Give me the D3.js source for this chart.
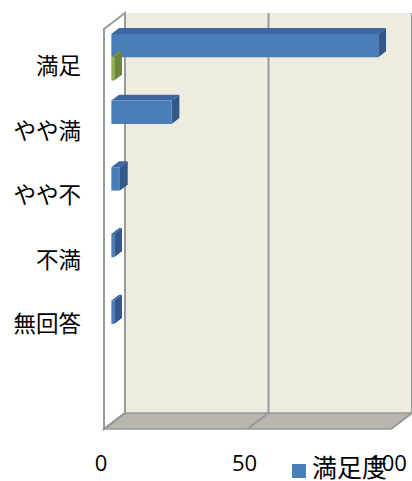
<!DOCTYPE html>
<html><head><meta charset="utf-8">
<script src="https://cdn.jsdelivr.net/npm/d3@7"></script>
<style>
html,body{margin:0;padding:0;background:#fff;}
svg{display:block;}
</style></head>
<body>
<script>
const categories = ['満足','やや満','やや不','不満','無回答',''];
const seriesNames = ['満足度','系列2'];
const satisfaction = [93, 21, 3, 1, 1, null];
const series2 = [1, null, null, null, null, null];
const tickValues = [0, 50, 100];

const W = 412, H = 481;
const svg = d3.select('body').append('svg').attr('width', W).attr('height', H);

// projection: front plane + depth offset
const DX = 21, DY = -16;
const x = d3.scaleLinear().domain([0, 100]).range([104, 391]);
const y = d3.scaleBand().domain(categories).range([29.5, 429.5]).paddingInner(0.3).paddingOuter(0.15);
const ySub = d3.scaleBand().domain(seriesNames).range([0, y.bandwidth()]);
const yLabel = d3.scaleBand().domain(categories).range([32, 419]);
const xTick = d3.scaleLinear().domain([0, 100]).range([101, 388]);
const top0 = 29, bot0 = 429;
const P = (vx, vy, z) => [vx + DX * z, vy + DY * z];

const gridCol = '#999999';
// back wall
const bw = [P(x(0), top0, 1), P(x(100) + 2, top0, 1), P(x(100) + 2, bot0, 1), P(x(0), bot0, 1)];
svg.append('polygon').attr('points', bw.map(p => p.join(',')).join(' '))
  .attr('fill', '#EEEBE1').attr('stroke', 'none');
// floor
const fl = [P(x(0), bot0, 1), P(x(100), bot0, 1), P(x(100), bot0, 0), P(x(0), bot0, 0)];
svg.append('polygon').attr('points', fl.map(p => p.join(',')).join(' '))
  .attr('fill', '#B9B6AF').attr('stroke', gridCol).attr('stroke-width', 1.5);
// left wall
const lw = [P(x(0), top0, 0), P(x(0), top0, 1), P(x(0), bot0, 1), P(x(0), bot0, 0)];
svg.append('polygon').attr('points', lw.map(p => p.join(',')).join(' '))
  .attr('fill', '#ffffff').attr('stroke', gridCol).attr('stroke-width', 2);
// gridlines on back wall + floor
tickValues.forEach(t => {
  const a = P(x(t), top0, 1), b = P(x(t), bot0, 1), c = P(x(t), bot0, 0);
  svg.append('polyline').attr('points', [a, b, c].map(p => p.join(',')).join(' '))
    .attr('fill', 'none').attr('stroke', gridCol).attr('stroke-width', 2);
});

// bars
const colors = {
  '満足度': {front: '#4A7EBB', top: '#3C67A0', side: '#32588A'},
  '系列2': {front: '#8EB04E', top: '#7C9A42', side: '#6B863A'}
};
const z0 = 0.35, zd = 0.37;
const bars = [];
[satisfaction, series2].forEach((arr, si) => {
  arr.forEach((v, ci) => {
    if (v == null || v <= 0) return;
    bars.push({s: seriesNames[si], c: categories[ci], v});
  });
});
const pts = a => a.map(p => p.join(',')).join(' ');
const g = svg.append('g');
const bg = g.selectAll('g.bar').data(bars).join('g').attr('class', 'bar');
bg.each(function(d) {
  const sel = d3.select(this);
  const yt = y(d.c) + ySub(d.s), yb = yt + ySub.bandwidth();
  const xl = x(0), xr = x(d.v);
  const f = [P(xl, yt, z0), P(xr, yt, z0), P(xr, yb, z0), P(xl, yb, z0)];
  const t = [P(xl, yt, z0), P(xl, yt, z0 + zd), P(xr, yt, z0 + zd), P(xr, yt, z0)];
  const s = [P(xr, yt, z0), P(xr, yt, z0 + zd), P(xr, yb, z0 + zd), P(xr, yb, z0)];
  const col = colors[d.s];
  sel.append('polygon').attr('points', pts(t)).attr('fill', col.top);
  sel.append('polygon').attr('points', pts(s)).attr('fill', col.side);
  sel.append('polygon').attr('points', pts(f)).attr('fill', col.front);
});

// category labels
svg.append('g').selectAll('text').data(categories.filter(c => c)).join('text')
  .attr('x', 81).attr('y', d => yLabel(d) + yLabel.bandwidth() / 2)
  .attr('text-anchor', 'end').attr('dominant-baseline', 'central')
  .attr('font-family', "'Noto Sans CJK JP', sans-serif").attr('font-size', 22.5)
  .attr('fill', '#000').text(d => d);

// value axis labels
svg.append('g').selectAll('text').data(tickValues).join('text')
  .attr('x', d => xTick(d)).attr('y', 471)
  .attr('text-anchor', 'middle')
  .attr('font-family', "'Open Sans', sans-serif").attr('font-size', 22)
  .attr('fill', '#000').text(d => d);

// legend
const lg = svg.append('g');
lg.append('rect').attr('x', 292).attr('y', 464).attr('width', 14).attr('height', 14).attr('fill', colors['満足度'].front);
lg.append('text').attr('x', 312).attr('y', 477)
  .attr('font-family', "'Noto Sans CJK JP', sans-serif").attr('font-size', 25)
  .attr('fill', '#000').text(seriesNames[0]);
</script>
</body></html>
